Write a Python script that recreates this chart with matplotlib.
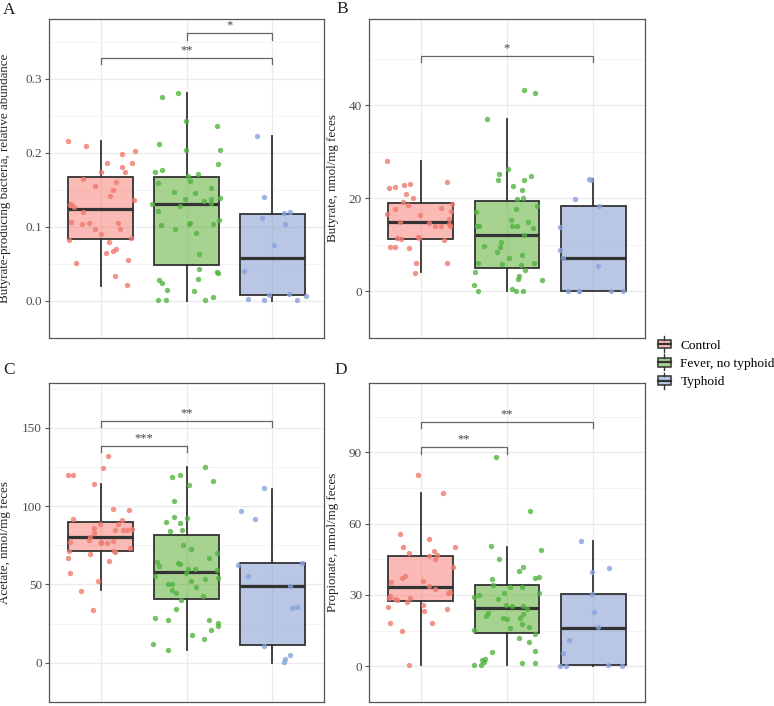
import matplotlib
matplotlib.use("Agg")
import matplotlib.pyplot as plt
import numpy as np
from matplotlib.legend_handler import HandlerBase
from matplotlib.patches import Rectangle
from matplotlib.lines import Line2D

plt.rcParams['font.family'] = ['Liberation Serif', 'DejaVu Serif']

groups = ["Control", "Fever, no typhoid", "Typhoid"]
fill_colors = ["#F8766D", "#51A923", "#7591CD"]
point_colors = ["#F07A6E", "#52B440", "#87A2DC"]

# ---------------- Panel A: butyrate-producing bacteria ----------------
a_ctrl_y = [0.2156, 0.210, 0.186, 0.202, 0.199, 0.186, 0.181, 0.174, 0.174, 0.165, 0.156, 0.161,
            0.150, 0.1425, 0.136, 0.131, 0.130, 0.1275, 0.1205, 0.107, 0.1035, 0.1055, 0.097,
            0.090, 0.105, 0.097, 0.085, 0.082, 0.080, 0.0706, 0.067, 0.065, 0.052, 0.0557,
            0.0337, 0.0212]
a_ctrl_dx = [-0.38, -0.17, 0.07, 0.40, 0.25, 0.37, 0.25, 0.28, 0.01, -0.20, -0.07, 0.18,
             0.15, 0.11, 0.39, -0.34, -0.35, -0.31, -0.21, -0.34, -0.22, -0.13, -0.07,
             0.0, 0.20, 0.23, 0.35, -0.37, 0.10, 0.18, 0.14, 0.06, -0.29, 0.32, 0.17, 0.31]
a_fev_y = [0.281, 0.275, 0.243, 0.237, 0.212, 0.204, 0.204, 0.185, 0.174, 0.1766, 0.1695, 0.171,
           0.162, 0.160, 0.153, 0.147, 0.146, 0.138, 0.1375, 0.139, 0.1346, 0.132, 0.131, 0.129,
           0.121, 0.110, 0.1055, 0.104, 0.1035, 0.102, 0.097, 0.092, 0.064, 0.0436, 0.0386,
           0.0378, 0.0278, 0.0237, 0.0295, 0.0154, 0.0129, 0.0017, 0.0012, 0.0008, 0.005]
a_fev_dx = [-0.10, -0.28, -0.01, 0.35, -0.32, -0.01, 0.39, 0.37, -0.37, -0.29, 0.02, 0.13,
            0.04, -0.33, 0.28, -0.15, 0.10, -0.02, 0.29, 0.39, 0.20, 0.29, -0.40, -0.07,
            -0.33, 0.38, 0.04, 0.03, 0.31, -0.30, -0.13, 0.11, 0.15, 0.14, 0.36, 0.37,
            -0.32, -0.29, 0.13, -0.23, 0.09, -0.33, -0.24, 0.21, 0.31]
a_typ_y = [0.2227, 0.140, 0.1118, 0.1188, 0.120, 0.1039, 0.0756, 0.040, 0.0083, 0.0096,
           0.003, 0.0008, 0.0012, 0.007]
a_typ_dx = [-0.18, -0.10, -0.12, 0.14, 0.20, 0.15, 0.02, -0.33, -0.04, 0.19, -0.28, -0.10, 0.28, 0.39]
a_q1 = [0.0843, 0.0486, 0.0079]
a_med = [0.1238, 0.1317, 0.0577]
a_q3 = [0.1674, 0.1674, 0.1176]
a_lo = [0.0208, 0.0, 0.0]
a_hi = [0.2156, 0.281, 0.2227]

# ---------------- Panel B: butyrate ----------------
b_ctrl_y = [28.0, 23.6, 22.2, 22.4, 22.8, 23.1, 21.0, 20.1, 19.2, 18.5, 18.9, 17.9, 17.7, 17.4,
            16.7, 16.5, 15.6, 14.9, 14.7, 14.1, 14.0, 14.5, 14.0, 11.8, 11.5, 11.6, 11.3, 11.1,
            9.6, 9.5, 9.4, 6.2, 6.1, 4.05]
b_ctrl_dx = [-0.39, 0.30, -0.37, -0.30, -0.19, -0.13, -0.17, -0.09, -0.21, -0.15, 0.36, 0.24,
             -0.30, 0.35, -0.39, -0.01, 0.33, -0.24, 0.10, 0.16, 0.24, 0.33, 0.34, -0.03, -0.02,
             -0.28, -0.23, 0.27, -0.36, -0.30, -0.14, -0.05, 0.31, -0.07]
b_fev_y = [43.3, 42.7, 37.0, 26.4, 25.2, 23.9, 24.0, 24.8, 22.7, 21.9, 19.9, 20.0, 18.3, 17.1,
           17.7, 15.3, 14.9, 14.0, 14.1, 14.1, 14.0, 13.6, 12.1, 10.6, 9.7, 9.5, 8.4, 7.8, 7.3,
           6.1, 5.9, 6.2, 5.6, 4.6, 4.1, 3.4, 2.6, 2.4, 1.35, 0.6, 0.0, 0.0, 0.0]
b_fev_dx = [0.20, 0.32, -0.23, 0.01, -0.09, -0.11, 0.20, 0.28, 0.07, 0.17, 0.12, 0.18, 0.35,
            -0.36, 0.10, 0.05, 0.24, -0.35, -0.33, 0.06, 0.12, 0.30, 0.20, -0.07, -0.27, -0.08,
            -0.12, 0.17, 0.02, -0.34, -0.06, 0.31, 0.16, 0.21, -0.37, 0.14, 0.13, 0.40, -0.38,
            0.06, -0.34, 0.11, 0.18]
b_typ_y = [24.1, 24.0, 19.9, 18.4, 13.9, 9.0, 7.3, 5.5, 0.0, 0.0, 0.0, 0.0, 0.0]
b_typ_dx = [-0.05, -0.03, -0.21, 0.07, -0.38, -0.38, -0.35, 0.05, -0.29, -0.17, -0.16, 0.21, 0.34]
b_q1 = [11.3, 5.0, 0.0]
b_med = [14.9, 12.2, 7.27]
b_q3 = [19.0, 19.5, 18.4]
b_lo = [4.1, 0.0, 0.0]
b_hi = [28.0, 37.0, 24.1]

# ---------------- Panel C: acetate ----------------
c_ctrl_y = [131.9, 124.1, 120.2, 120.0, 114.0, 98.4, 97.4, 91.8, 91.0, 88.6, 88.3, 86.3, 84.6,
            84.7, 84.6, 85.5, 82.8, 80.1, 78.3, 77.3, 77.7, 76.8, 76.4, 77.1, 71.5, 71.5, 70.9,
            73.4, 69.7, 66.6, 64.9, 57.3, 52.0, 46.0, 33.7]
c_ctrl_dx = [0.09, 0.03, -0.38, -0.32, -0.08, 0.15, 0.33, -0.32, 0.25, -0.01, 0.20, -0.08, 0.17,
             0.26, 0.31, 0.36, -0.08, -0.12, -0.14, -0.36, 0.15, 0.08, 0.01, 0.01, -0.37, 0.16,
             0.17, 0.34, -0.12, -0.38, 0.10, -0.35, -0.03, -0.23, -0.09]
c_fev_y = [125.1, 119.8, 118.3, 116.3, 113.4, 103.6, 93.3, 92.7, 90.0, 89.4, 84.2, 84.7, 75.0,
           72.9, 70.1, 67.2, 64.5, 61.8, 63.7, 62.9, 59.6, 59.6, 59.2, 57.1, 55.7, 54.4, 53.2,
           52.4, 50.1, 50.1, 46.6, 48.1, 44.8, 42.9, 39.9, 34.1, 28.8, 27.3, 27.3, 25.7, 23.6,
           20.7, 17.5, 15.0, 12.3, 8.2]
c_fev_dx = [0.21, -0.07, -0.17, 0.31, 0.03, -0.15, -0.14, 0.00, -0.24, -0.08, -0.19, -0.05, -0.04,
            0.05, 0.35, 0.26, -0.34, -0.32, -0.10, -0.08, 0.02, 0.10, 0.35, -0.01, -0.37, 0.37,
            0.22, 0.05, -0.22, -0.17, -0.17, 0.11, -0.12, 0.19, -0.06, -0.12, -0.37, -0.21, 0.26,
            0.37, 0.37, 0.29, 0.06, 0.20, -0.39, -0.21]
c_typ_y = [111.4, 96.8, 91.6, 62.3, 63.7, 55.5, 48.9, 34.9, 35.8, 10.9, 5.3, 2.7, 0.6]
c_typ_dx = [-0.10, -0.37, -0.20, -0.40, 0.34, -0.29, 0.20, 0.23, 0.28, -0.10, 0.20, 0.15, 0.14]
c_q1 = [71.5, 40.9, 11.1]
c_med = [80.3, 58.1, 49.1]
c_q3 = [90.0, 81.6, 63.7]
c_lo = [46.2, 8.2, 0.0]
c_hi = [114.0, 125.1, 111.0]

# ---------------- Panel D: propionate ----------------
d_ctrl_y = [80.6, 73.0, 55.7, 53.5, 50.3, 50.2, 48.4, 47.5, 46.3, 46.6, 45.0, 41.7, 38.1, 37.0,
            35.3, 35.7, 33.7, 32.5, 31.2, 30.8, 29.6, 28.8, 28.6, 28.2, 27.7, 27.0, 25.6, 23.1,
            24.9, 24.3, 18.0, 18.1, 14.7, 0.4]
d_ctrl_dx = [-0.03, 0.26, -0.24, 0.10, 0.40, -0.21, 0.15, -0.14, 0.10, 0.19, 0.16, 0.37, -0.18,
             -0.22, -0.34, 0.03, 0.09, 0.17, 0.34, 0.32, -0.36, -0.37, -0.12, -0.30, -0.28, -0.16,
             0.03, 0.04, -0.38, 0.31, -0.36, 0.13, -0.22, -0.14]
d_fev_y = [87.8, 65.3, 50.5, 48.8, 45.3, 41.9, 40.2, 37.2, 37.7, 36.5, 34.3, 33.5, 33.4, 30.1,
           30.8, 29.2, 28.2, 30.7, 25.7, 25.2, 25.2, 23.9, 22.6, 21.0, 21.8, 20.3, 19.8, 20.5,
           15.9, 17.6, 16.6, 15.4, 13.7, 12.0, 10.2, 6.3, 5.9, 3.0, 2.7, 1.7, 0.65, 0.4, 1.2, 1.6]
d_fev_dx = [-0.13, 0.27, -0.18, 0.39, -0.09, 0.19, 0.14, 0.32, 0.37, -0.17, -0.16, 0.03, 0.17,
            -0.32, -0.04, -0.38, -0.11, 0.37, -0.01, 0.06, 0.19, 0.23, -0.22, -0.24, 0.18, -0.05,
            0.00, 0.15, 0.04, 0.17, 0.26, -0.38, 0.32, 0.14, 0.26, 0.32, -0.17, -0.25, -0.29,
            -0.27, -0.38, -0.30, 0.17, 0.33]
d_typ_y = [52.7, 41.5, 39.5, 30.4, 22.8, 16.7, 11.1, 5.7, 0.0, 0.0, 0.65, 0.1]
d_typ_dx = [-0.14, 0.18, -0.02, -0.02, 0.01, 0.06, -0.28, -0.35, -0.38, -0.32, 0.17, 0.33]
d_q1 = [27.4, 14.1, 0.65]
d_med = [33.5, 24.5, 16.3]
d_q3 = [46.3, 34.2, 30.3]
d_lo = [0.4, 0.4, 0.0]
d_hi = [73.0, 50.3, 52.7]

# significance brackets: (group i, group j, y level, label)
a_sig = [(2, 3, 0.3623, "*"), (1, 3, 0.3286, "**")]
b_sig = [(1, 3, 50.7, "*")]
c_sig = [(1, 3, 154.3, "**"), (1, 2, 138.5, "***")]
d_sig = [(1, 3, 102.8, "**"), (1, 2, 92.2, "**")]

panels = [
    dict(label="A", ylabel="Butyrate-producing bacteria, relative abundance",
         ys=[a_ctrl_y, a_fev_y, a_typ_y], dxs=[a_ctrl_dx, a_fev_dx, a_typ_dx],
         stats=(a_q1, a_med, a_q3, a_lo, a_hi), sig=a_sig, ylim=(-0.016, 0.381),
         ticks=[0.0, 0.1, 0.2, 0.3], ticklabels=["0.0", "0.1", "0.2", "0.3"], tick_h=0.009,
         rect=(49, 19, 324, 338), lab_x=-0.138, plab=(3, 10)),
    dict(label="B", ylabel="Butyrate, nmol/mg feces",
         ys=[b_ctrl_y, b_fev_y, b_typ_y], dxs=[b_ctrl_dx, b_fev_dx, b_typ_dx],
         stats=(b_q1, b_med, b_q3, b_lo, b_hi), sig=b_sig, ylim=(-2.7, 58.6),
         ticks=[0, 20, 40], ticklabels=["0", "20", "40"], tick_h=1.4,
         rect=(369, 19, 645, 338), lab_x=-0.110, plab=(336, 9)),
    dict(label="C", ylabel="Acetate, nmol/mg feces",
         ys=[c_ctrl_y, c_fev_y, c_typ_y], dxs=[c_ctrl_dx, c_fev_dx, c_typ_dx],
         stats=(c_q1, c_med, c_q3, c_lo, c_hi), sig=c_sig, ylim=(-7.6, 178.6),
         ticks=[0, 50, 100, 150], ticklabels=["0", "50", "100", "150"], tick_h=4.1,
         rect=(49, 383, 324, 702), lab_x=-0.138, plab=(3, 370)),
    dict(label="D", ylabel="Propionate, nmol/mg feces",
         ys=[d_ctrl_y, d_fev_y, d_typ_y], dxs=[d_ctrl_dx, d_fev_dx, d_typ_dx],
         stats=(d_q1, d_med, d_q3, d_lo, d_hi), sig=d_sig, ylim=(-5.6, 119.1),
         ticks=[0, 30, 60, 90], ticklabels=["0", "30", "60", "90"], tick_h=2.8,
         rect=(369, 383, 645, 702), lab_x=-0.110, plab=(334, 370)),
]

W, H = 774, 706
fig = plt.figure(figsize=(W / 100, H / 100), dpi=100)
fig.patch.set_facecolor("white")

edge = "#333333"
for p in panels:
    x0, y0, x1, y1 = p["rect"]
    ax = fig.add_axes([x0 / W, 1 - y1 / H, (x1 - x0) / W, (y1 - y0) / H])
    ax.set_axisbelow(True)

    q1, med, q3, lo, hi = p["stats"]
    bstats = [dict(q1=q1[i], med=med[i], q3=q3[i], whislo=lo[i], whishi=hi[i], fliers=[])
              for i in range(3)]
    bp = ax.bxp(bstats, positions=[1, 2, 3], widths=0.75, patch_artist=True,
                showfliers=False, showcaps=False, manage_ticks=False,
                boxprops=dict(edgecolor=edge, linewidth=1.3),
                whiskerprops=dict(color=edge, linewidth=1.3),
                medianprops=dict(color=edge, linewidth=2.3))
    for i, b in enumerate(bp["boxes"]):
        r, g, bb = matplotlib.colors.to_rgb(fill_colors[i])
        b.set_facecolor((r, g, bb, 0.5))
        b.set_edgecolor(edge)

    for i in range(3):
        xs = [i + 1 + d for d in p["dxs"][i]]
        ax.scatter(xs, p["ys"][i], s=15, color=point_colors[i], alpha=0.8,
                   linewidths=0, zorder=4)

    for (gi, gj, yv, lab) in p["sig"]:
        h = p["tick_h"]
        ax.plot([gi, gi, gj, gj], [yv - h, yv, yv, yv - h], color="#666666", lw=0.9,
                zorder=5)
        ax.text((gi + gj) / 2, yv + h * 0.2, lab, ha="center", va="bottom",
                fontsize=9, color="#444444")

    ax.set_xlim(0.4, 3.6)
    ax.set_ylim(*p["ylim"])
    ax.set_yticks(p["ticks"])
    ax.set_yticklabels(p["ticklabels"])
    t = p["ticks"]
    step = t[1] - t[0]
    minors = [v + step / 2 for v in t] + [t[0] - step / 2]
    ax.set_yticks(minors, minor=True)
    ax.set_xticks([1, 2, 3])
    ax.set_xticklabels([])
    ax.grid(True, which="major", color="#EBEBEB", lw=1.0)
    ax.grid(True, which="minor", axis="y", color="#F3F3F3", lw=0.6)
    ax.tick_params(axis="x", length=0)
    ax.tick_params(axis="y", which="minor", length=0)
    ax.tick_params(axis="y", which="major", length=3, width=0.8, color="#555555",
                   labelsize=9.5, labelcolor="#4D4D4D", pad=2)
    for s in ax.spines.values():
        s.set_color("#555555")
        s.set_linewidth(0.9)

    ax.set_ylabel(p["ylabel"], fontsize=9.4, color="#222222")
    ax.yaxis.set_label_coords(p["lab_x"], 0.5)
    fig.text(p["plab"][0] / W, 1 - p["plab"][1] / H, p["label"], fontsize=12.5,
             ha="left", va="center", color="#222222")


class BoxHandler(HandlerBase):
    def __init__(self, color):
        super().__init__()
        self.color = color

    def create_artists(self, legend, orig_handle, xdescent, ydescent, width, height,
                       fontsize, trans):
        r, g, b = matplotlib.colors.to_rgb(self.color)
        bw = width * 0.9
        bx = (width - bw) / 2 - xdescent
        by = -ydescent + height * 0.1
        bh = height * 0.8
        rect = Rectangle((bx, by), bw, bh, facecolor=(r, g, b, 0.5), edgecolor=edge,
                         lw=1.1, transform=trans)
        cx = bx + bw / 2
        w1 = Line2D([cx, cx], [-ydescent - height * 0.25, by], color=edge, lw=1.0,
                    transform=trans)
        w2 = Line2D([cx, cx], [by + bh, -ydescent + height * 1.25], color=edge, lw=1.0,
                    transform=trans)
        m = Line2D([bx, bx + bw], [by + bh / 2, by + bh / 2], color=edge, lw=1.6,
                   transform=trans)
        return [rect, w1, w2, m]


handles = [Rectangle((0, 0), 1, 1) for _ in groups]
hmap = {h: BoxHandler(c) for h, c in zip(handles, fill_colors)}
fig.legend(handles, groups, handler_map=hmap, loc="center left",
           bbox_to_anchor=(657 / W, 1 - 363.5 / H), frameon=False, fontsize=9.6,
           handlelength=1.1, handleheight=0.85, handletextpad=0.65, labelspacing=0.4,
           borderaxespad=0, borderpad=0)

fig.savefig("out.png", dpi=100)
